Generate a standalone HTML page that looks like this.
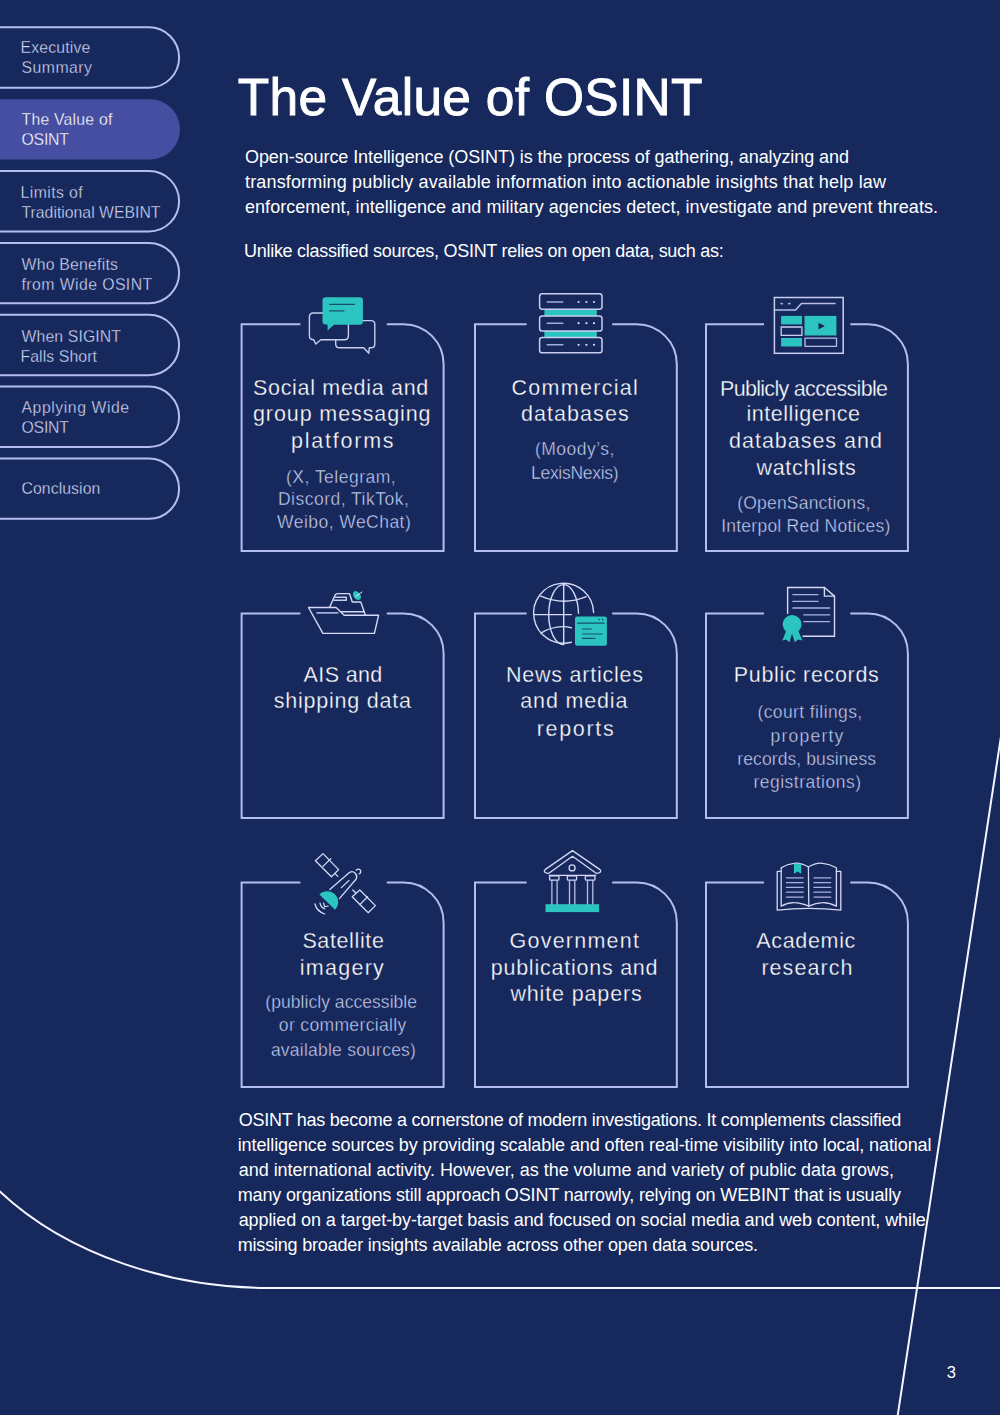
<!DOCTYPE html>
<html><head><meta charset="utf-8">
<style>
html,body{margin:0;padding:0;}
body{width:1000px;height:1415px;background:#16285c;position:relative;overflow:hidden;font-family:"Liberation Sans",sans-serif;color:#fff;}
.t{position:absolute;white-space:nowrap;}
svg{position:absolute;left:0;top:0;}
</style></head><body>
<svg width="1000" height="1415" viewBox="0 0 1000 1415">
  <path d="M-5 27.35 H148.9 A30.2 30.2 0 0 1 148.9 87.75 H-5" fill="none" stroke="#b4bdf2" stroke-width="2"/>
  <path d="M-5 99.25 H149.85 A30.15 30.15 0 0 1 149.85 159.55 H-5 Z" fill="#464ea2"/>
  <path d="M-5 171.05 H148.9 A30.2 30.2 0 0 1 148.9 231.45000000000002 H-5" fill="none" stroke="#b4bdf2" stroke-width="2"/>
  <path d="M-5 242.9 H148.9 A30.2 30.2 0 0 1 148.9 303.3 H-5" fill="none" stroke="#b4bdf2" stroke-width="2"/>
  <path d="M-5 314.75 H148.9 A30.2 30.2 0 0 1 148.9 375.15 H-5" fill="none" stroke="#b4bdf2" stroke-width="2"/>
  <path d="M-5 386.6 H148.9 A30.2 30.2 0 0 1 148.9 447.0 H-5" fill="none" stroke="#b4bdf2" stroke-width="2"/>
  <path d="M-5 458.45 H148.9 A30.2 30.2 0 0 1 148.9 518.85 H-5" fill="none" stroke="#b4bdf2" stroke-width="2"/>
  <g fill="none" stroke="#b4bdf2" stroke-width="2">
    <path d="M300.4 324.2 H241.6 V551.0 H443.6 V364.2 A40 40 0 0 0 403.6 324.2 H386.8"/>
    <path d="M526.7 324.2 H475.0 V551.0 H676.8 V364.2 A40 40 0 0 0 636.8 324.2 H612.2"/>
    <path d="M764.0 324.2 H706.0 V551.0 H907.9 V364.2 A40 40 0 0 0 867.9 324.2 H850.3"/>
    <path d="M300.4 613.4 H241.6 V818.0 H443.6 V653.4 A40 40 0 0 0 403.6 613.4 H386.8"/>
    <path d="M526.7 613.4 H475.0 V818.0 H676.8 V653.4 A40 40 0 0 0 636.8 613.4 H612.2"/>
    <path d="M764.0 613.4 H706.0 V818.0 H907.9 V653.4 A40 40 0 0 0 867.9 613.4 H850.3"/>
    <path d="M300.4 882.4 H241.6 V1087.0 H443.6 V922.4 A40 40 0 0 0 403.6 882.4 H386.8"/>
    <path d="M526.7 882.4 H475.0 V1087.0 H676.8 V922.4 A40 40 0 0 0 636.8 882.4 H612.2"/>
    <path d="M764.0 882.4 H706.0 V1087.0 H907.9 V922.4 A40 40 0 0 0 867.9 882.4 H850.3"/>
  </g>
  <g fill="none" stroke="#f4f6ff" stroke-width="2">
    <path d="M-1 1190.6 C 68.3 1256.3, 173.6 1287.9, 267 1287.9 H1001"/>
    <path d="M1001.5 733 L897.6 1416"/>
  </g>
<g id="icons" stroke-linejoin="round" stroke-linecap="round">
 <!-- chat -->
 <g>
  <path d="M339.7 320.6 H371 Q374.8 320.6 374.8 324.4 V344 Q374.8 347.8 371 347.8 H369.3 L368.8 353.3 L363.7 347.8 H339.5 Q335.7 347.8 335.7 344 V324.4 Q335.7 320.6 339.7 320.6 Z" fill="none" stroke="#c9cef0" stroke-width="1.4"/>
  <path d="M313.4 313 H344.4 Q348.4 313 348.4 317 V335.7 Q348.4 339.7 344.4 339.7 H320.8 L315.7 344 L313.8 339.7 Q309.4 339.7 309.4 335.7 V317 Q309.4 313 313.4 313 Z" fill="#16285c" stroke="#c9cef0" stroke-width="1.4"/>
  <path d="M325.7 297.2 H359.9 Q362.9 297.2 362.9 300.2 V321.8 Q362.9 324.8 359.9 324.8 H334 L327.6 330.6 V324.8 Q322.5 324.8 322.5 321.8 V300.2 Q322.5 297.2 325.7 297.2 Z" fill="#2cc4c0"/>
  <path d="M329.7 304.4 H354.4 M329.7 310.8 H344" stroke="#17506b" stroke-width="1.3"/>
 </g>
 <!-- server -->
 <g>
  <rect x="544.4" y="309" width="52.4" height="7" fill="#2cc4c0"/>
  <rect x="544.4" y="331" width="52.4" height="6.6" fill="#2cc4c0"/>
  <g fill="none" stroke="#c9cef0" stroke-width="1.5">
   <rect x="539.6" y="293.8" width="62.4" height="15.4" rx="2.6"/>
   <rect x="539.6" y="316.1" width="62.4" height="15" rx="2.6"/>
   <rect x="539.6" y="337.4" width="62.4" height="15.4" rx="2.6"/>
  </g>
  <path d="M547.2 302 H562.8 M547.2 323.2 H562.8 M547.2 344.8 H562.8" stroke="#a3abda" stroke-width="1.6"/>
  <g fill="#d5d9f5">
   <circle cx="578.6" cy="302" r="1.1"/><circle cx="586.4" cy="302" r="1.1"/><circle cx="594" cy="302" r="1.1"/>
   <circle cx="578.6" cy="323.2" r="1.1"/><circle cx="586.4" cy="323.2" r="1.1"/><circle cx="594" cy="323.2" r="1.1"/>
   <circle cx="578.6" cy="344.8" r="1.1"/><circle cx="586.4" cy="344.8" r="1.1"/><circle cx="594" cy="344.8" r="1.1"/>
  </g>
 </g>
 <!-- browser -->
 <g>
  <rect x="774.4" y="297.5" width="68.8" height="55.8" fill="none" stroke="#c9cef0" stroke-width="1.5" stroke-linejoin="miter"/>
  <path d="M774.4 310 H795.6 L801.4 303.6 H835" fill="none" stroke="#b7bee6" stroke-width="1.5"/>
  <path d="M781 303.6 H782.4 M788.6 303.6 H790" stroke="#a3abda" stroke-width="1.6"/>
  <rect x="781.1" y="315.9" width="20.9" height="8.5" fill="#2cc4c0"/>
  <rect x="781.1" y="338" width="20.9" height="8.5" fill="#2cc4c0"/>
  <rect x="804.5" y="315.9" width="31.9" height="19.6" fill="#2cc4c0"/>
  <path d="M818.5 322.7 L824.8 326.1 L818.5 329.5 Z" fill="#16285c"/>
  <rect x="781.2" y="327" width="20.7" height="8.4" fill="none" stroke="#c9cef0" stroke-width="1.3"/>
  <rect x="805" y="338.1" width="31.5" height="8.2" fill="none" stroke="#b7bee6" stroke-width="1.3"/>
 </g>
 <!-- ship -->
 <g fill="none" stroke="#d5d9f5" stroke-width="1.4">
  <path d="M329.7 607.3 L334.6 596 Q335.5 593.6 338 593.6 H349.5 L352.3 602 H360.8 L365.4 615.2"/>
  <path d="M308.5 607.5 H336.1 L344.2 615.2 H378.6 L374.4 633.4 H322.9 Z"/>
  <path d="M341.4 611.8 H363.7"/>
  <path d="M335 597.3 H346.3 V600.3 H334" stroke="#c9cef0"/>
  <path d="M317 612.9 H337.8" stroke="#a3abda" stroke-width="1.6"/>
 </g>
 <ellipse cx="357" cy="595.6" rx="3.4" ry="4.9" transform="rotate(-35 357 595.6)" fill="#2cc4c0"/>
 <path d="M356 596.6 L362 592" stroke="#e8ebff" stroke-width="1"/>
 <!-- globe -->
 <g fill="none" stroke="#d5d9f5" stroke-width="1.4">
  <path d="M571.4 642.2 A30 30 0 1 1 593.6 612.6"/>
  <path d="M563.7 584.6 V644.6"/>
  <path d="M563.7 584.6 A15 30 0 0 0 563.7 644.6"/>
  <path d="M563.7 584.6 A15 30 0 0 1 578.5 613.3"/>
  <path d="M533.7 614.6 H571.4"/>
  <path d="M540.8 596.2 Q563.7 606 586.2 596.6"/>
  <path d="M540.8 633.1 Q556 624 571.4 627.7"/>
 </g>
 <rect x="575" y="616.5" width="31.9" height="29.2" rx="2" fill="#2cc4c0"/>
 <path d="M577.5 623.2 H604.2 M582.6 629 H591.2 M582.6 634 H602 M582.6 638.3 H594.8" stroke="#17506b" stroke-width="1.2"/>
 <circle cx="599.3" cy="619.6" r="0.8" fill="#17506b"/><circle cx="602.6" cy="619.6" r="0.8" fill="#17506b"/>
 <!-- certificate -->
 <g fill="none" stroke="#d5d9f5" stroke-width="1.4" stroke-linejoin="miter">
  <path d="M787.6 613.4 V587.5 H824.4 L834.5 596.1 V636.3 H803"/>
  <path d="M824.4 587.5 V596.1 H834.5"/>
 </g>
 <path d="M792.9 594.6 H818 M792.9 601.4 H818 M792.9 608 H829.6 M803.8 614.9 H829.6 M803.8 621.6 H829.6" stroke="#a9b1de" stroke-width="1.4"/>
 <g fill="#2cc4c0">
  <circle cx="792.1" cy="624.3" r="9.4"/>
  <path d="M786.5 630 L782.4 640.4 L786 639.4 L789.5 642.3 L792.5 632 Z"/>
  <path d="M791.5 632 L794.8 642.3 L798 639.4 L802.3 640.4 L798 630 Z"/>
 </g>
 <!-- satellite -->
 <g fill="none" stroke="#d5d9f5" stroke-width="1.3">
  <path d="M315.4 860.8 L323 853.6 L338.6 869.6 L331.4 876.8 Z"/>
  <path d="M323 866.4 L330.8 858.6"/>
  <path d="M335 873.6 L337.8 876.4"/>
  <path d="M352.2 896.8 L359.8 890 L375.4 905.6 L368.2 912.8 Z"/>
  <path d="M359.8 904.6 L367.6 896.8"/>
  <path d="M352.8 890 L355.6 892.8"/>
  <path d="M329.8 889.6 L349.4 872.6 Q352.6 870.4 355.2 873.2 Q357.8 876 356.2 879 L339.4 898.6"/>
  <path d="M341.4 887.6 L349 880.4"/>
  <path d="M356.2 870.2 A2.5 2.5 0 1 1 359.2 873.9"/>
  <path d="M315 904 Q316.6 911 324.6 914"/>
  <path d="M320 903.2 Q320.8 907.6 324.8 908.8"/>
 </g>
 <path d="M319.4 894.4 A10.9 10.9 0 0 1 335 909.8 Z" fill="#2cc4c0"/>
 <path d="M323.6 903 L324.6 906.6 L328.2 906" fill="none" stroke="#d5d9f5" stroke-width="1.2"/>
 <!-- government -->
 <rect x="545.5" y="904.2" width="53.6" height="7.9" fill="#2cc4c0"/>
 <g fill="none" stroke="#d5d9f5" stroke-width="1.3">
  <path d="M572.5 850.6 L600 869.6 Q601.6 871.2 599.6 872.6 L596.5 873.5 L572.5 856.3 L548.5 873.5 L545.4 872.6 Q543.4 871.2 545 869.6 Z"/>
  <path d="M549.3 875.3 H595.8"/>
  <circle cx="572.1" cy="867.9" r="3"/>
  <rect x="549.6" y="875.8" width="9.4" height="4.4" rx="1.2"/>
  <rect x="567.3" y="875.8" width="9.3" height="4.4" rx="1.2"/>
  <rect x="585.3" y="875.8" width="9.7" height="4.4" rx="1.2"/>
  <path d="M551.9 880.3 V904 M557.1 880.3 V904 M569.5 880.3 V904 M574.8 880.3 V904 M587.5 880.3 V904 M592.8 880.3 V904" stroke="#b7bee6"/>
 </g>
 <!-- book -->
 <g fill="none" stroke="#d5d9f5" stroke-width="1.3">
  <path d="M781.2 871.4 H777.2 V910.2 Q808.8 906.4 840.8 910.2 V871.4 H836.4"/>
  <path d="M808.4 867 Q800 862.2 794 863.4 Q787.4 864 781.2 867.8 V906.2 Q787.4 902.4 794 902.6 Q801 902.6 808.8 906.2 Z"/>
  <path d="M808.4 867 Q816.8 862.2 822.8 863.4 Q829.4 864 836.4 867.8 V906.2 Q829.4 902.4 822.8 902.6 Q815.8 902.6 808.8 906.2"/>
 </g>
 <path d="M794 863.8 H801.2 V873.8 L797.6 871.4 L794 873.8 Z" fill="#2cc4c0"/>
 <path d="M786.4 877.8 H803.2 M786.4 882.6 H803.2 M786.4 887.4 H803.2 M786.4 892.2 H803.2 M786.4 897.2 H803.2 M814 877.8 H830.8 M814 882.6 H830.8 M814 887.4 H830.8 M814 892.2 H830.8 M814 897.2 H830.8" stroke="#a9b1de" stroke-width="1.3"/>
</g>

</svg>
<div class="t" style="left:20.50px;top:40.40px;font-size:15.8px;line-height:15.8px;letter-spacing:0.162px;color:#d3d8f4;-webkit-text-stroke:0.3px #16285c;">Executive</div>
<div class="t" style="left:21.50px;top:59.60px;font-size:15.8px;line-height:15.8px;letter-spacing:0.469px;color:#d3d8f4;-webkit-text-stroke:0.3px #16285c;">Summary</div>
<div class="t" style="left:21.50px;top:112.20px;font-size:15.8px;line-height:15.8px;letter-spacing:0.226px;color:#ffffff;-webkit-text-stroke:0.3px #464ea2;">The Value of</div>
<div class="t" style="left:21.50px;top:132.20px;font-size:15.8px;line-height:15.8px;letter-spacing:-0.205px;color:#ffffff;-webkit-text-stroke:0.3px #464ea2;">OSINT</div>
<div class="t" style="left:20.50px;top:185.00px;font-size:15.8px;line-height:15.8px;letter-spacing:0.422px;color:#d3d8f4;-webkit-text-stroke:0.3px #16285c;">Limits of</div>
<div class="t" style="left:21.50px;top:205.00px;font-size:15.8px;line-height:15.8px;letter-spacing:-0.002px;color:#d3d8f4;-webkit-text-stroke:0.3px #16285c;">Traditional WEBINT</div>
<div class="t" style="left:21.50px;top:257.40px;font-size:15.8px;line-height:15.8px;letter-spacing:0.223px;color:#d3d8f4;-webkit-text-stroke:0.3px #16285c;">Who Benefits</div>
<div class="t" style="left:21.50px;top:277.20px;font-size:15.8px;line-height:15.8px;letter-spacing:0.430px;color:#d3d8f4;-webkit-text-stroke:0.3px #16285c;">from Wide OSINT</div>
<div class="t" style="left:21.50px;top:328.80px;font-size:15.8px;line-height:15.8px;letter-spacing:0.114px;color:#d3d8f4;-webkit-text-stroke:0.3px #16285c;">When SIGINT</div>
<div class="t" style="left:20.50px;top:349.00px;font-size:15.8px;line-height:15.8px;letter-spacing:0.089px;color:#d3d8f4;-webkit-text-stroke:0.3px #16285c;">Falls Short</div>
<div class="t" style="left:21.50px;top:399.60px;font-size:15.8px;line-height:15.8px;letter-spacing:0.551px;color:#d3d8f4;-webkit-text-stroke:0.3px #16285c;">Applying Wide</div>
<div class="t" style="left:21.50px;top:420.00px;font-size:15.8px;line-height:15.8px;letter-spacing:-0.205px;color:#d3d8f4;-webkit-text-stroke:0.3px #16285c;">OSINT</div>
<div class="t" style="left:21.50px;top:481.30px;font-size:15.8px;line-height:15.8px;letter-spacing:0.070px;color:#d3d8f4;-webkit-text-stroke:0.3px #16285c;">Conclusion</div>
<div class="t" style="left:237.75px;top:71.50px;font-size:51.5px;line-height:51.5px;letter-spacing:0.284px;color:#fff;-webkit-text-stroke:0.9px #fff;">The Value of OSINT</div>
<div class="t" style="left:245.00px;top:148.00px;font-size:18px;line-height:18px;letter-spacing:-0.072px;color:#fff;">Open-source Intelligence (OSINT) is the process of gathering, analyzing and</div>
<div class="t" style="left:245.00px;top:173.00px;font-size:18px;line-height:18px;letter-spacing:0.156px;color:#fff;">transforming publicly available information into actionable insights that help law</div>
<div class="t" style="left:245.00px;top:198.00px;font-size:18px;line-height:18px;letter-spacing:0.041px;color:#fff;">enforcement, intelligence and military agencies detect, investigate and prevent threats.</div>
<div class="t" style="left:244.00px;top:242.00px;font-size:18px;line-height:18px;letter-spacing:-0.282px;color:#fff;">Unlike classified sources, OSINT relies on open data, such as:</div>
<div class="t" style="left:238.70px;top:1111.00px;font-size:18px;line-height:18px;letter-spacing:-0.264px;color:#fff;">OSINT has become a cornerstone of modern investigations. It complements classified</div>
<div class="t" style="left:237.70px;top:1136.00px;font-size:18px;line-height:18px;letter-spacing:-0.092px;color:#fff;">intelligence sources by providing scalable and often real-time visibility into local, national</div>
<div class="t" style="left:238.70px;top:1161.00px;font-size:18px;line-height:18px;letter-spacing:-0.021px;color:#fff;">and international activity. However, as the volume and variety of public data grows,</div>
<div class="t" style="left:237.70px;top:1186.00px;font-size:18px;line-height:18px;letter-spacing:-0.146px;color:#fff;">many organizations still approach OSINT narrowly, relying on WEBINT that is usually</div>
<div class="t" style="left:238.70px;top:1211.00px;font-size:18px;line-height:18px;letter-spacing:-0.086px;color:#fff;">applied on a target-by-target basis and focused on social media and web content, while</div>
<div class="t" style="left:237.70px;top:1236.00px;font-size:18px;line-height:18px;letter-spacing:-0.184px;color:#fff;">missing broader insights available across other open data sources.</div>
<div class="t" style="left:253.00px;top:378.00px;font-size:21.5px;line-height:21.5px;letter-spacing:0.688px;color:#fff;-webkit-text-stroke:0.3px #16285c;">Social media and</div>
<div class="t" style="left:253.00px;top:404.00px;font-size:21.5px;line-height:21.5px;letter-spacing:0.902px;color:#fff;-webkit-text-stroke:0.3px #16285c;">group messaging</div>
<div class="t" style="left:291.10px;top:430.70px;font-size:21.5px;line-height:21.5px;letter-spacing:1.754px;color:#fff;-webkit-text-stroke:0.3px #16285c;">platforms</div>
<div class="t" style="left:286.00px;top:468.90px;font-size:17.5px;line-height:17.5px;letter-spacing:0.492px;color:#d0d6f5;-webkit-text-stroke:0.4px #16285c;">(X, Telegram,</div>
<div class="t" style="left:278.00px;top:491.10px;font-size:17.5px;line-height:17.5px;letter-spacing:0.483px;color:#d0d6f5;-webkit-text-stroke:0.4px #16285c;">Discord, TikTok,</div>
<div class="t" style="left:277.10px;top:513.70px;font-size:17.5px;line-height:17.5px;letter-spacing:0.453px;color:#d0d6f5;-webkit-text-stroke:0.4px #16285c;">Weibo, WeChat)</div>
<div class="t" style="left:511.40px;top:378.00px;font-size:21.5px;line-height:21.5px;letter-spacing:1.311px;color:#fff;-webkit-text-stroke:0.3px #16285c;">Commercial</div>
<div class="t" style="left:521.00px;top:404.00px;font-size:21.5px;line-height:21.5px;letter-spacing:1.054px;color:#fff;-webkit-text-stroke:0.3px #16285c;">databases</div>
<div class="t" style="left:534.90px;top:441.30px;font-size:17.5px;line-height:17.5px;letter-spacing:0.503px;color:#d0d6f5;-webkit-text-stroke:0.4px #16285c;">(Moody’s,</div>
<div class="t" style="left:531.00px;top:464.80px;font-size:17.5px;line-height:17.5px;letter-spacing:-0.281px;color:#d0d6f5;-webkit-text-stroke:0.4px #16285c;">LexisNexis)</div>
<div class="t" style="left:720.00px;top:378.70px;font-size:21.5px;line-height:21.5px;letter-spacing:-0.694px;color:#fff;-webkit-text-stroke:0.3px #16285c;">Publicly accessible</div>
<div class="t" style="left:746.50px;top:404.20px;font-size:21.5px;line-height:21.5px;letter-spacing:0.535px;color:#fff;-webkit-text-stroke:0.3px #16285c;">intelligence</div>
<div class="t" style="left:729.10px;top:431.30px;font-size:21.5px;line-height:21.5px;letter-spacing:0.975px;color:#fff;-webkit-text-stroke:0.3px #16285c;">databases and</div>
<div class="t" style="left:756.50px;top:458.20px;font-size:21.5px;line-height:21.5px;letter-spacing:0.684px;color:#fff;-webkit-text-stroke:0.3px #16285c;">watchlists</div>
<div class="t" style="left:737.30px;top:494.90px;font-size:17.5px;line-height:17.5px;letter-spacing:0.186px;color:#d0d6f5;-webkit-text-stroke:0.4px #16285c;">(OpenSanctions,</div>
<div class="t" style="left:721.20px;top:517.50px;font-size:17.5px;line-height:17.5px;letter-spacing:0.242px;color:#d0d6f5;-webkit-text-stroke:0.4px #16285c;">Interpol Red Notices)</div>
<div class="t" style="left:303.60px;top:664.70px;font-size:21.5px;line-height:21.5px;letter-spacing:0.360px;color:#fff;-webkit-text-stroke:0.3px #16285c;">AIS and</div>
<div class="t" style="left:273.70px;top:691.00px;font-size:21.5px;line-height:21.5px;letter-spacing:0.779px;color:#fff;-webkit-text-stroke:0.3px #16285c;">shipping data</div>
<div class="t" style="left:506.10px;top:664.70px;font-size:21.5px;line-height:21.5px;letter-spacing:0.751px;color:#fff;-webkit-text-stroke:0.3px #16285c;">News articles</div>
<div class="t" style="left:520.30px;top:691.00px;font-size:21.5px;line-height:21.5px;letter-spacing:0.832px;color:#fff;-webkit-text-stroke:0.3px #16285c;">and media</div>
<div class="t" style="left:536.70px;top:718.50px;font-size:21.5px;line-height:21.5px;letter-spacing:1.689px;color:#fff;-webkit-text-stroke:0.3px #16285c;">reports</div>
<div class="t" style="left:733.80px;top:664.70px;font-size:21.5px;line-height:21.5px;letter-spacing:0.679px;color:#fff;-webkit-text-stroke:0.3px #16285c;">Public records</div>
<div class="t" style="left:757.50px;top:703.70px;font-size:17.5px;line-height:17.5px;letter-spacing:0.390px;color:#d0d6f5;-webkit-text-stroke:0.4px #16285c;">(court filings,</div>
<div class="t" style="left:770.60px;top:727.80px;font-size:17.5px;line-height:17.5px;letter-spacing:1.222px;color:#d0d6f5;-webkit-text-stroke:0.4px #16285c;">property</div>
<div class="t" style="left:737.30px;top:750.70px;font-size:17.5px;line-height:17.5px;letter-spacing:0.100px;color:#d0d6f5;-webkit-text-stroke:0.4px #16285c;">records, business</div>
<div class="t" style="left:753.40px;top:773.80px;font-size:17.5px;line-height:17.5px;letter-spacing:0.499px;color:#d0d6f5;-webkit-text-stroke:0.4px #16285c;">registrations)</div>
<div class="t" style="left:302.40px;top:931.10px;font-size:21.5px;line-height:21.5px;letter-spacing:0.621px;color:#fff;-webkit-text-stroke:0.3px #16285c;">Satellite</div>
<div class="t" style="left:299.80px;top:957.80px;font-size:21.5px;line-height:21.5px;letter-spacing:1.264px;color:#fff;-webkit-text-stroke:0.3px #16285c;">imagery</div>
<div class="t" style="left:265.30px;top:994.40px;font-size:17.5px;line-height:17.5px;letter-spacing:0.051px;color:#d0d6f5;-webkit-text-stroke:0.4px #16285c;">(publicly accessible</div>
<div class="t" style="left:278.80px;top:1017.40px;font-size:17.5px;line-height:17.5px;letter-spacing:0.359px;color:#d0d6f5;-webkit-text-stroke:0.4px #16285c;">or commercially</div>
<div class="t" style="left:270.90px;top:1041.50px;font-size:17.5px;line-height:17.5px;letter-spacing:0.234px;color:#d0d6f5;-webkit-text-stroke:0.4px #16285c;">available sources)</div>
<div class="t" style="left:509.60px;top:931.10px;font-size:21.5px;line-height:21.5px;letter-spacing:1.219px;color:#fff;-webkit-text-stroke:0.3px #16285c;">Government</div>
<div class="t" style="left:490.70px;top:957.80px;font-size:21.5px;line-height:21.5px;letter-spacing:0.764px;color:#fff;-webkit-text-stroke:0.3px #16285c;">publications and</div>
<div class="t" style="left:510.40px;top:983.50px;font-size:21.5px;line-height:21.5px;letter-spacing:0.859px;color:#fff;-webkit-text-stroke:0.3px #16285c;">white papers</div>
<div class="t" style="left:756.20px;top:931.10px;font-size:21.5px;line-height:21.5px;letter-spacing:0.679px;color:#fff;-webkit-text-stroke:0.3px #16285c;">Academic</div>
<div class="t" style="left:761.40px;top:957.80px;font-size:21.5px;line-height:21.5px;letter-spacing:1.058px;color:#fff;-webkit-text-stroke:0.3px #16285c;">research</div>
<div class="t" style="left:946.70px;top:1364.20px;font-size:16.5px;line-height:16.5px;letter-spacing:0.000px;color:#fff;">3</div>
</body></html>
